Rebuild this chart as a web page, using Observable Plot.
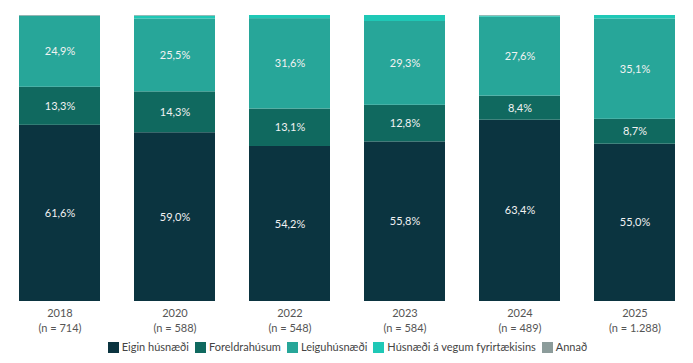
<!DOCTYPE html>
<html>
<head>
<meta charset="utf-8">
<script src="https://cdn.jsdelivr.net/npm/d3@7"></script>
<script src="https://cdn.jsdelivr.net/npm/@observablehq/plot@0.6"></script>
<style>
  html, body { margin: 0; padding: 0; background: #fff; }
  body { width: 693px; height: 363px; overflow: hidden; font-family: Lato, "Noto Sans", sans-serif; }
  #chart svg { overflow: visible; display: block; }
  #legend { display: flex; justify-content: center; gap: 6px; font-size: 11px; color: #444; margin-top: 0px; padding-left: 2px; line-height: 14px; }
  #legend .item { display: flex; align-items: center; gap: 3px; }
  #legend .sw { width: 11px; height: 11px; display: inline-block; }
</style>
</head>
<body>
<div id="chart"></div>
<div id="legend"></div>
<script>
const years = ["2018", "2020", "2022", "2023", "2024", "2025"];
const sampleSizes = ["714", "588", "548", "584", "489", "1.288"];
const seriesNames = ["Eigin húsnæði", "Foreldrahúsum", "Leiguhúsnæði", "Húsnæði á vegum fyrirtækisins", "Annað"];
const eigin = [61.6, 59.0, 54.2, 55.8, 63.4, 55.0];
const foreldra = [13.3, 14.3, 13.1, 12.8, 8.4, 8.7];
const leigu = [24.9, 25.5, 31.6, 29.3, 27.6, 35.1];
const vegum = [0, 1.0, 1.1, 2.1, 0.4, 1.2];
const annad = [0.2, 0.2, 0, 0, 0.2, 0];
const colors = ["#0b3440", "#10695f", "#27a699", "#1fc8b6", "#8c9c9b"];

const seriesValues = [eigin, foreldra, leigu, vegum, annad];
const data = [];
years.forEach((yr, i) => {
  seriesNames.forEach((s, j) => {
    data.push({year: yr, series: s, value: seriesValues[j][i]});
  });
});
const nByYear = Object.fromEntries(years.map((y, i) => [y, sampleSizes[i]]));
const fmt = v => v.toFixed(1).replace(".", ",") + "%";

const plot = Plot.plot({
  width: 693,
  height: 340,
  marginTop: 15,
  marginBottom: 39,
  marginLeft: 16,
  marginRight: 16,
  style: {fontFamily: "Lato, 'Noto Sans', sans-serif", fontSize: "11px"},
  x: {domain: years, paddingInner: 0.3, paddingOuter: 0, label: null},
  y: {domain: [0, 100], axis: null},
  color: {domain: seriesNames, range: colors},
  marks: [
    Plot.barY(data, Plot.stackY({x: "year", y: "value", z: "series", fill: "series", order: seriesNames})),
    Plot.text(data, Plot.stackY({
      x: "year", y: "value", z: "series", order: seriesNames,
      text: d => d.value >= 5 ? fmt(d.value) : "",
      fill: "#f2f2f2", fontSize: 11
    })),
    Plot.axisX({
      tickSize: 0, tickPadding: 5, label: null,
      tickFormat: d => `${d}\n(n = ${nByYear[d]})`,
      fill: "#555", fontSize: 11, lineHeight: 1.35
    })
  ]
});
document.getElementById("chart").appendChild(plot);

const lg = document.getElementById("legend");
seriesNames.forEach((s, i) => {
  const it = document.createElement("span");
  it.className = "item";
  it.innerHTML = `<span class="sw" style="background:${colors[i]}"></span><span>${s}</span>`;
  lg.appendChild(it);
});
</script>
</body>
</html>
